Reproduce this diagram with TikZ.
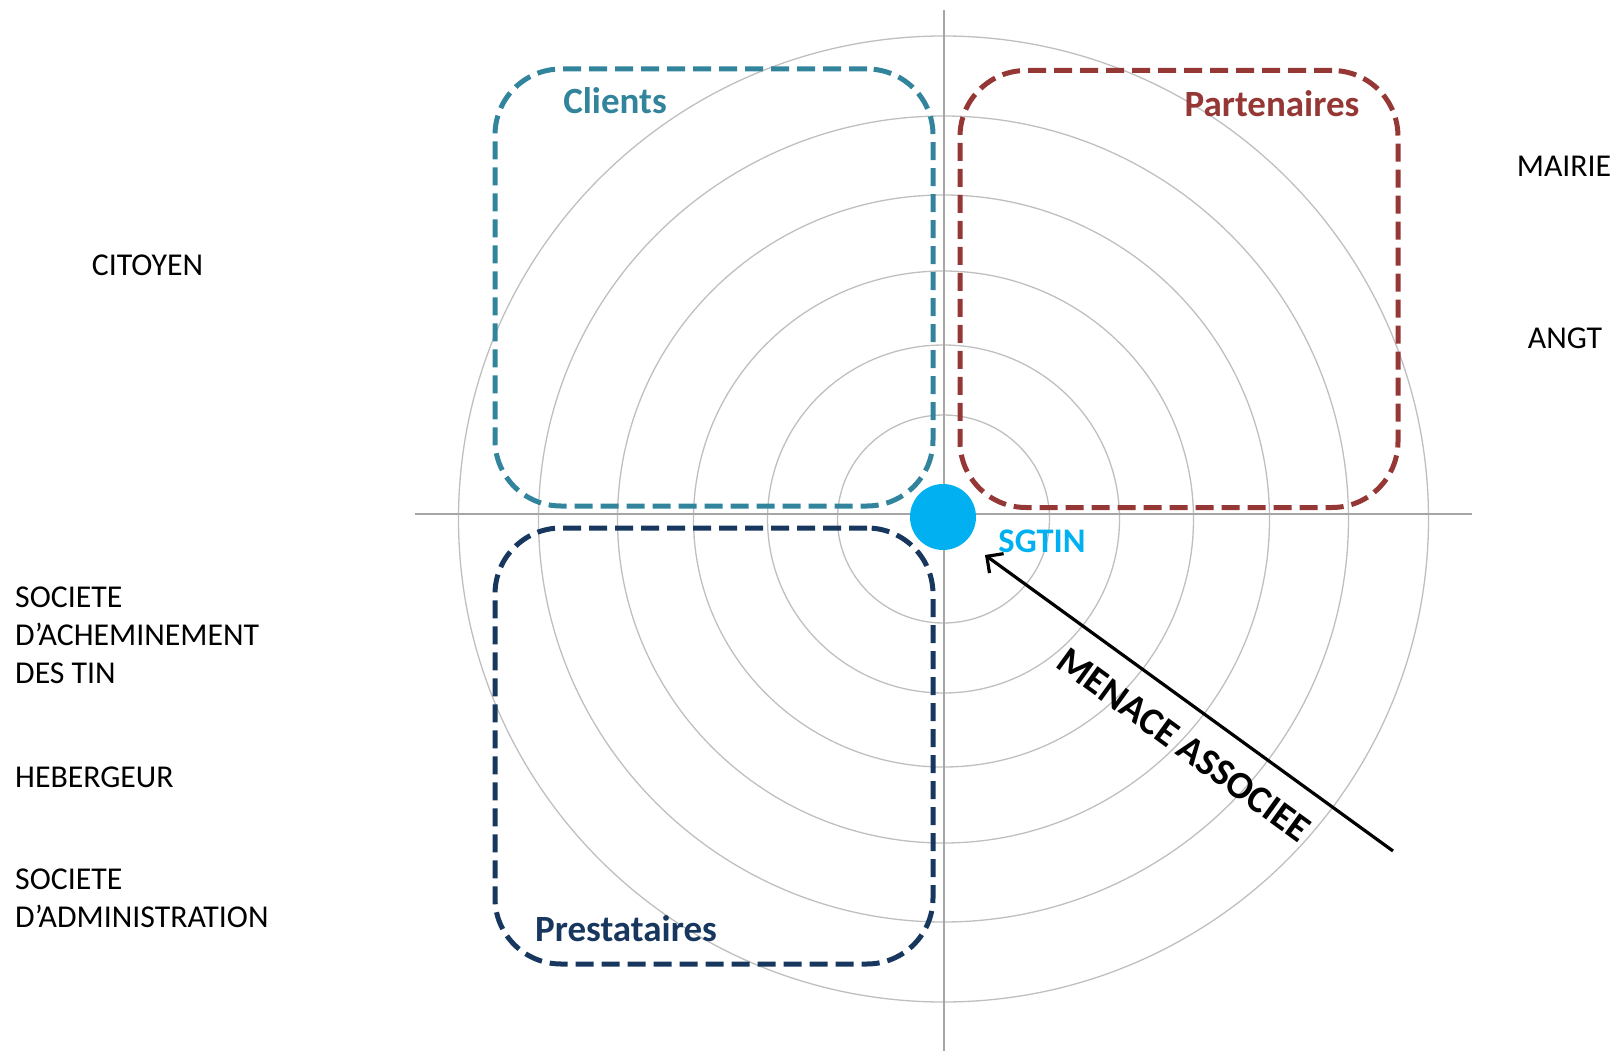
\documentclass[tikz,border=0pt]{standalone}
\usepackage{fontspec}
\setmainfont{Carlito}
\usetikzlibrary{arrows.meta}
\definecolor{clientc}{HTML}{31849B}
\definecolor{partc}{HTML}{953735}
\definecolor{prestc}{HTML}{17375E}
\definecolor{sgtinc}{HTML}{00B0F0}
\definecolor{ringc}{HTML}{BFBFBF}
\definecolor{axisc}{HTML}{A6A6A6}
\tikzset{
  ring/.style={draw=ringc, line width=1.3pt},
  axisline/.style={draw=axisc, line width=2.5pt},
  groupbox/.style={draw=#1, line width=5pt, dash pattern=on 18pt off 8pt,
    rounded corners=66pt, minimum width=438pt, minimum height=437pt, inner sep=0pt},
  grouplabel/.style={text=#1, font=\bfseries\fontsize{37}{44}\selectfont, inner sep=0pt},
  plainlabel/.style={font=\fontsize{31.8}{38}\selectfont, inner sep=0pt, align=left},
}
\begin{document}
\begin{tikzpicture}[x=1pt,y=-1pt]
\useasboundingbox (0,0) rectangle (1618,1051);
% concentric rings
\foreach \r in {106,176,250,326,405,485}{
  \draw[ring] (943.5,519) ellipse[x radius=\r pt, y radius=\r pt-2pt];
}
% axes
\coordinate (axl) at (415,514);
\coordinate (axr) at (1472,514);
\coordinate (axt) at (944,10);
\coordinate (axb) at (944,1051);
\draw[axisline] (axl) -- (axr);
\draw[axisline] (axt) -- (axb);
% group boxes
\node[groupbox=clientc] (clientsbox) at (714,287.5) {};
\node[groupbox=partc] (partbox) at (1179,289) {};
\node[groupbox=prestc, minimum height=436pt] (prestbox) at (714,746) {};
\node[grouplabel=clientc] (clients) at (615,101) {Clients};
\node[grouplabel=partc] (partenaires) at (1272,104) {Partenaires};
\node[grouplabel=prestc] (prestataires) at (626,929) {Prestataires};
% centre
\node[circle, fill=sgtinc, minimum size=66pt, inner sep=0pt] (dot) at (943,517) {};
\node[text=sgtinc, font=\bfseries\fontsize{34.5}{40}\selectfont, inner sep=0pt] (sgtin) at (1042,541) {SGTIN};
% threat arrow
\coordinate (mtail) at (1393,851);
\coordinate (mtip) at (985,555);
\draw[line width=3.2pt, -{Straight Barb[length=12pt,width=24pt]}] (mtail) -- (mtip);
\node[rotate=-36, font=\bfseries\fontsize{38.5}{44}\selectfont, inner sep=0pt] (menace) at (1184,745) {MENACE ASSOCIEE};
% actors
\node[plainlabel] (citoyen) at (147.5,265) {CITOYEN};
\node[plainlabel] (mairie) at (1564,166) {MAIRIE};
\node[plainlabel] (angt) at (1565,338) {ANGT};
\node[plainlabel, anchor=north west] (acheminement) at (15,587) {SOCIETE\\D’ACHEMINEMENT\\DES TIN};
\node[plainlabel, anchor=north west] (hebergeur) at (15,767) {HEBERGEUR};
\node[plainlabel, anchor=north west] (administration) at (15,869) {SOCIETE\\D’ADMINISTRATION};
\end{tikzpicture}
\end{document}
